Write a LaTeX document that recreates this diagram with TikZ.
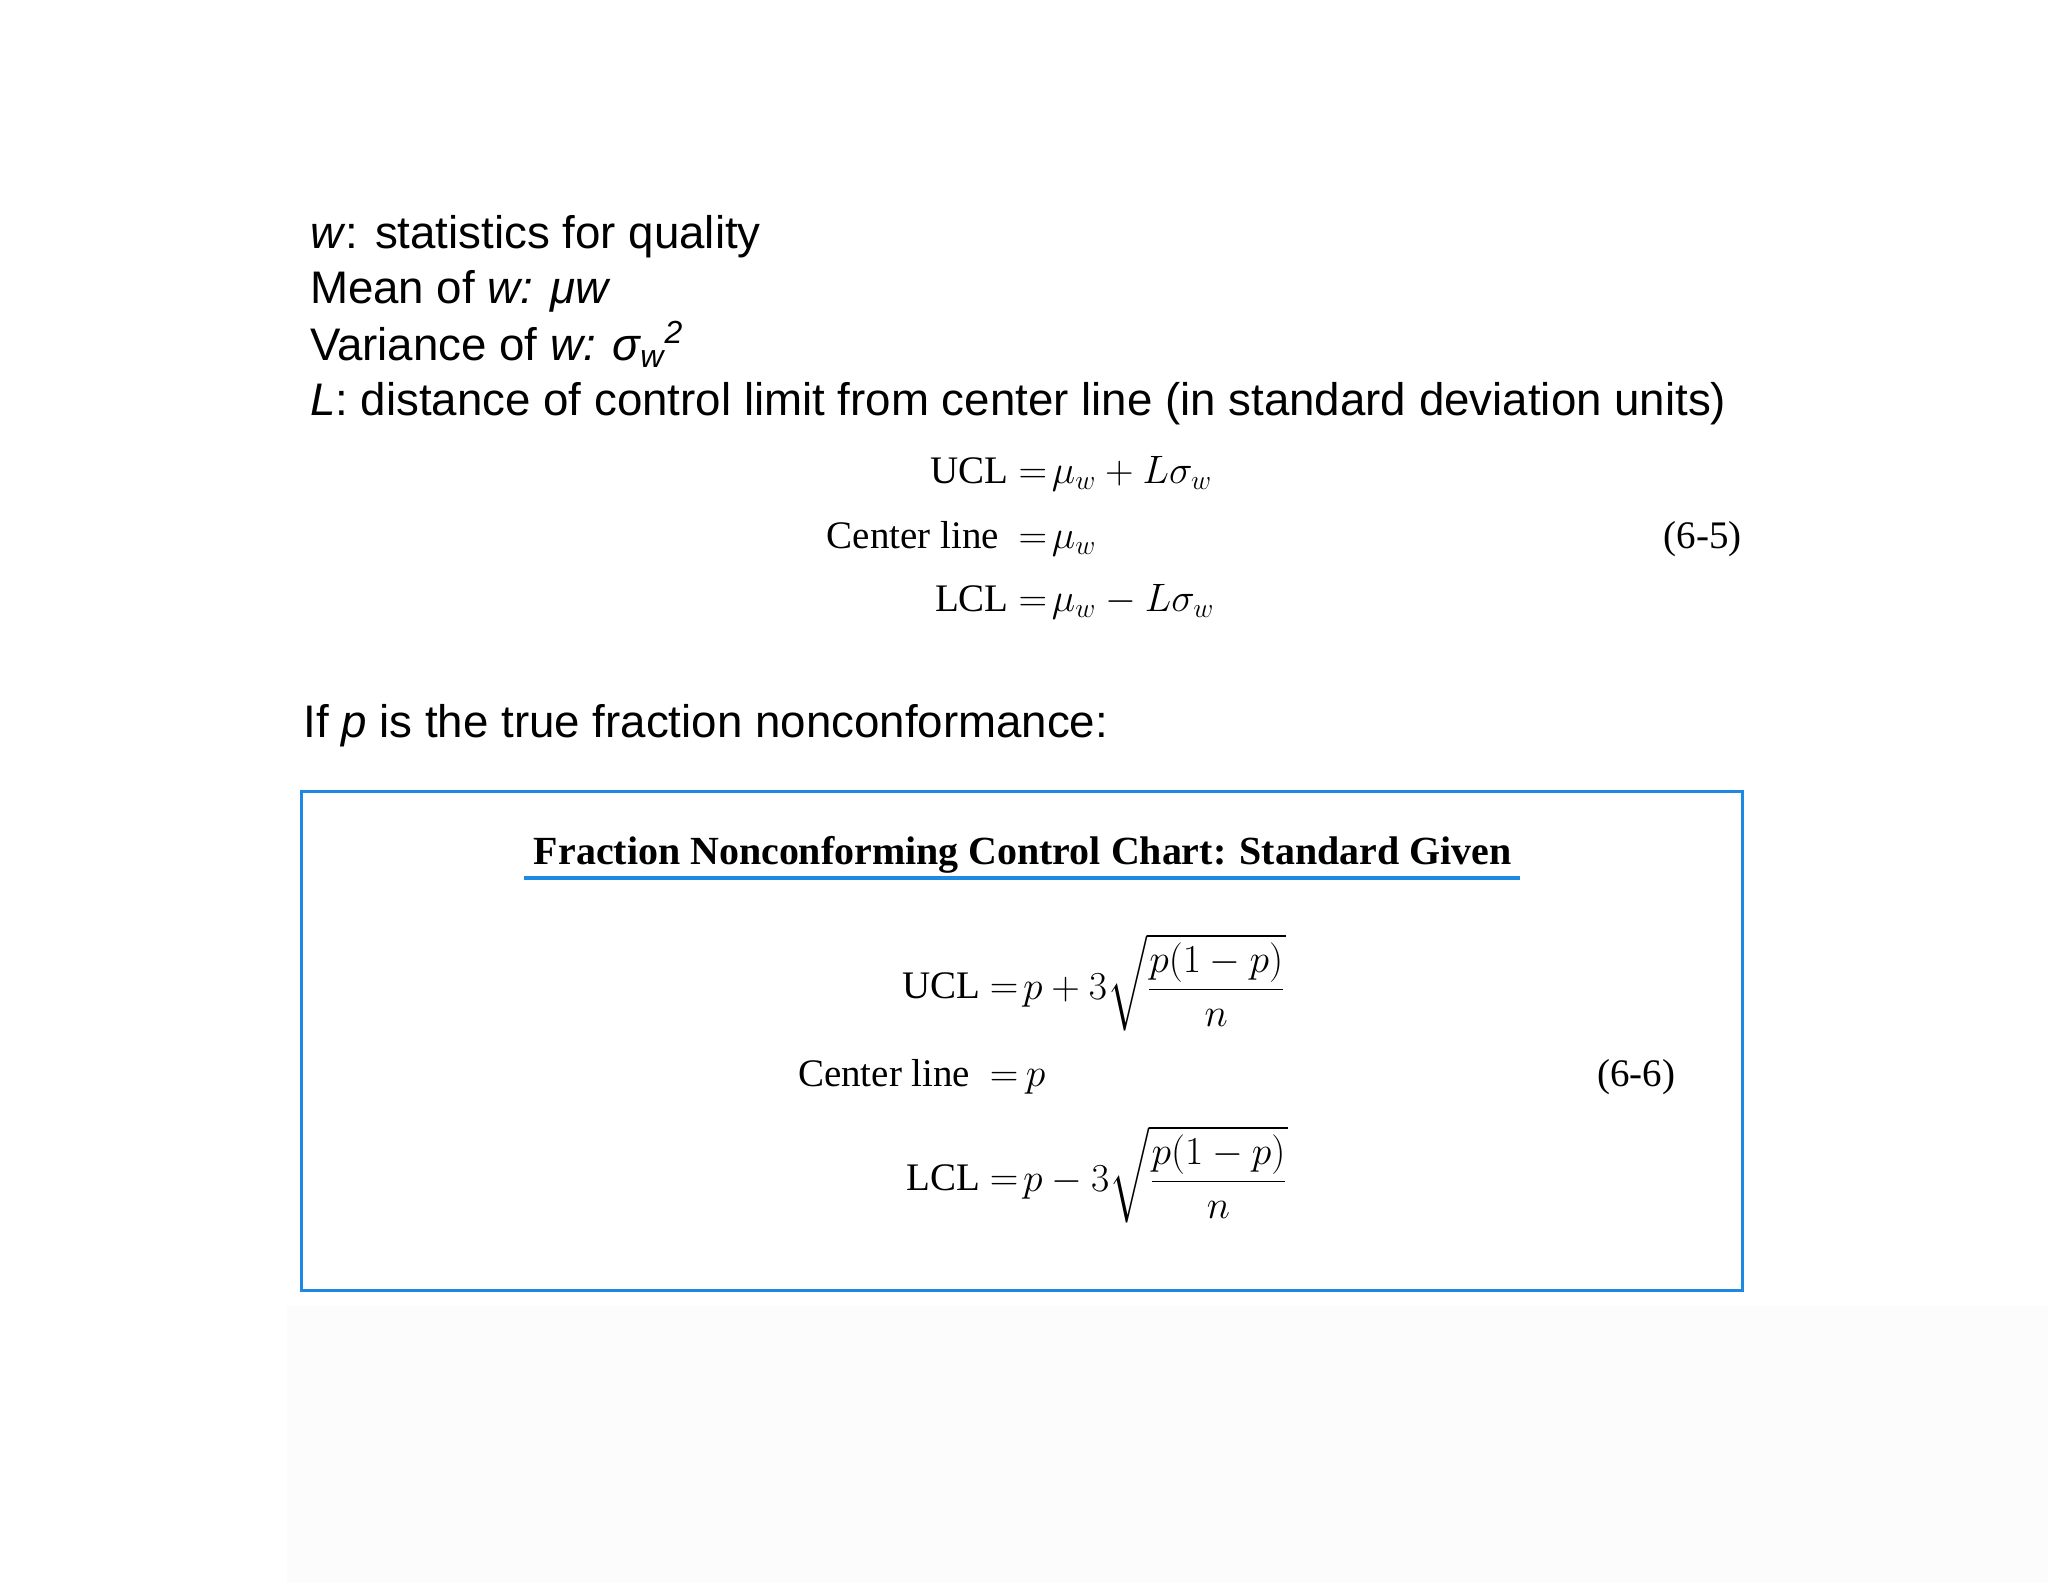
\documentclass[tikz,border=0pt]{standalone}
\usepackage{amsmath}
\usepackage{fontspec}
\setmainfont{Liberation Serif}
\newfontfamily\sans{Liberation Sans}
\definecolor{bblue}{RGB}{30,136,229}
\begin{document}
\begin{tikzpicture}[x=0.02cm,y=-0.02cm,
  txt/.style={anchor=base west,inner sep=0,font=\sans\fontsize{19.9}{24}\selectfont},
  eq/.style={inner sep=0,font=\fontsize{17}{20}\selectfont}]
\useasboundingbox (0,0) rectangle (1568,1212);
\fill[gray!2] (220,1000) rectangle (1568,1212);
\node[txt] (l1) at (237,190) {\textit{w}: statistics for quality};
\node[txt] (l2) at (237,232) {Mean of \textit{w: μw}};
\node[txt] (l3) at (237,276) {Variance of \textit{w: σ$_{\textit{w}}$$^{\textit{2}}$}};
\node[txt] (l4) at (237,318) {\textit{L}: distance of control limit from center line (in standard deviation units)};
\node[eq,anchor=base east] (u1) at (802,370) {UCL $=$};
\node[eq,anchor=base west] (u1r) at (805,370) {$\mu_w + L\sigma_w$};
\node[eq,anchor=base east] (c1) at (802,420) {Center line \ $=$};
\node[eq,anchor=base west] (c1r) at (805,420) {$\mu_w$};
\node[eq,anchor=base east] (d1) at (802,468) {LCL $=$};
\node[eq,anchor=base west] (d1r) at (805,468) {$\mu_w - L\sigma_w$};
\node[eq,anchor=base east] (n1) at (1334,420) {(6-5)};
\node[txt] (l5) at (232,565) {If \textit{p} is the true fraction nonconformance:};
\draw[bblue,line width=1.5pt] (231,606) rectangle (1334,988);
\node[inner sep=0,anchor=base,font=\bfseries\fontsize{17.4}{20}\selectfont] (t) at (783,662) {Fraction Nonconforming Control Chart: Standard Given};
\draw[bblue,line width=1.8pt] (401,672) -- (1164,672);
\node[eq,anchor=east] (u2) at (780,755) {UCL $=$};
\node[eq,anchor=west] (u2r) at (783,752) {$p+3\sqrt{\dfrac{p(1-p)}{n}}$};
\node[eq,anchor=base east] (c2) at (780,832) {Center line \ $=$};
\node[eq,anchor=base west] (c2r) at (785,832) {$p$};
\node[eq,anchor=east] (d2) at (780,902) {LCL $=$};
\node[eq,anchor=west] (d2r) at (783,899) {$p-3\sqrt{\dfrac{p(1-p)}{n}}$};
\node[eq,anchor=base east] (n2) at (1283,832) {(6-6)};
\end{tikzpicture}
\end{document}
